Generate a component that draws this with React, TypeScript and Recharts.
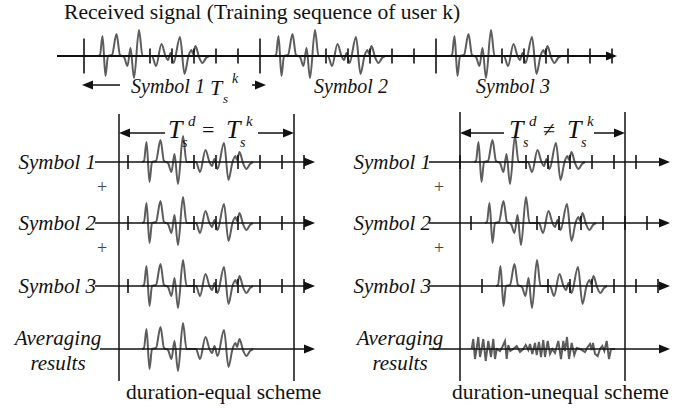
import { ComposedChart, Line, Scatter, XAxis, YAxis, ReferenceLine, ReferenceDot } from "recharts";

const FONT = '"Liberation Serif", "Times New Roman", "DejaVu Serif", serif';
const INK = "#111";
const WAVE = "#5c5c5c";

// one training symbol: [offset from symbol start, amplitude]
const symbolWave: [number, number][] = [
  [14, 0], [16, 1], [18.5, 20], [21.5, -20], [24, 0], [28, 1], [32.5, 22], [36, 1],
  [40, -1], [43.5, -10], [46.5, 8], [50, -22], [55, 26], [58.5, 0], [68, 0], [72, -10],
  [77.5, 12], [81.5, 0], [84, -4], [86.5, 3], [89.5, -7], [96, 19], [100.5, -18],
  [104.5, 0], [107.5, 6], [109, 2], [111.5, 10], [115, -1], [118.5, -7], [122, -2], [125, 0],
];

// averaging result of the duration-unequal scheme: [x, amplitude]
const unequalAvgWave: [number, number][] = [
  [471.7, 0], [473.3, 10], [475, -10], [477, 3], [478.3, 12], [480, -8], [481.7, 0],
  [483.3, 10], [485.7, -12], [488.3, 8], [490, -2], [491, -8], [493.3, 10], [495, -10],
  [496.7, 0], [500, -2], [502.3, 2], [505, 8], [506.7, -10], [508.3, 4], [510.3, -2],
  [513.3, 0], [516.7, 3], [520, -3], [523.3, 0], [525.7, 4], [528.3, -1], [530, 5],
  [532.3, -5], [535, 6], [536.7, -6], [539, 7], [541, -8], [543.3, 9], [545, -8],
  [547.7, 8], [550, -5], [552.3, 0], [555, -4], [558.3, 8], [561, -10], [563.3, 8],
  [565, -2], [567, 12], [569, -10], [571.7, 6], [574.3, -6], [576.7, 1], [580, 0],
  [585, -3], [587.7, 2], [590, 5], [591.7, -1], [593, 6], [595, -5], [597.7, -7],
  [600, 0], [602.3, 3], [604.3, -2], [606.7, 8], [609, -10], [611, 0], [615, 0],
];

const symbolNames = ["Symbol 1", "Symbol 2", "Symbol 3"];
const tickOffsets = [0, 66, 88, 110, 132, 154, 176];
const topMinorOffsets = [66, 88, 110, 132, 154];
const topStarts = [84, 260, 436];
const leftStarts = [128, 128, 128];
const rightStarts = [460, 471, 482];

// layout
const TOP_Y = 56;
const ROW_Y = [162, 223, 286];
const AVG_Y = 349;
const EQ_Y = 133;
const BOX_TOP = 114;
const BOX_BOTTOM = 381;

const wave = (start: number, base: number) =>
  symbolWave.map(([o, a]) => ({ x: start + o, y: base - a }));

const topMajor = topStarts.map((x) => ({ x, y: TOP_Y }));
const topMinor = topStarts
  .flatMap((s) => topMinorOffsets.map((o) => ({ x: s + o, y: TOP_Y })))
  .concat([{ x: 612, y: TOP_Y }]);
const rowTicks = [
  ...leftStarts.flatMap((s, i) => tickOffsets.map((o) => ({ x: s + o, y: ROW_Y[i] }))),
  ...rightStarts.flatMap((s, i) => tickOffsets.map((o) => ({ x: s + o, y: ROW_Y[i] }))),
];

const headsRight = [
  { x: 617, y: TOP_Y },
  ...ROW_Y.map((y) => ({ x: 315, y })),
  { x: 315, y: AVG_Y },
  ...ROW_Y.map((y) => ({ x: 670, y })),
  { x: 670, y: AVG_Y },
  { x: 294, y: EQ_Y },
  { x: 625, y: EQ_Y },
  { x: 266, y: 85 },
];
const headsLeft = [
  { x: 119, y: EQ_Y },
  { x: 460, y: EQ_Y },
  { x: 82, y: 85 },
];

// eslint-disable-next-line @typescript-eslint/no-explicit-any
const tickShape = (h: number) => (p: any) => (
  <line x1={p.cx} x2={p.cx} y1={p.cy - h} y2={p.cy + h} stroke={INK} strokeWidth={1.6} />
);

// eslint-disable-next-line @typescript-eslint/no-explicit-any
const headShape = (dir: number) => (p: any) => {
  const L = 11;
  const h = 4.5;
  return (
    <polygon
      points={`${p.cx},${p.cy} ${p.cx - dir * L},${p.cy - h} ${p.cx - dir * L},${p.cy + h}`}
      fill={INK}
    />
  );
};

const seg = (key: string, x1: number, y1: number, x2: number, y2: number, w = 1.7) => (
  <ReferenceLine
    key={key}
    segment={[{ x: x1, y: y1 }, { x: x2, y: y2 }]}
    stroke={INK}
    strokeWidth={w}
    ifOverflow="visible"
  />
);

const label = (
  key: string,
  x: number,
  y: number,
  text: string,
  size: number,
  italic = false,
  anchor: "start" | "middle" | "end" = "start",
  color = INK,
) => (
  <ReferenceDot
    key={key}
    x={x}
    y={y}
    r={0}
    ifOverflow="visible"
    // eslint-disable-next-line @typescript-eslint/no-explicit-any
    shape={(p: any) => (
      <text
        x={p.cx}
        y={p.cy}
        textAnchor={anchor}
        style={{
          fontFamily: FONT,
          fontSize: size,
          fontStyle: italic ? "italic" : "normal",
          fill: color,
        }}
      >
        {text}
      </text>
    )}
  />
);

// T_s^d (=|≠) T_s^k
const equation = (key: string, x0: number, rel: string) => [
  label(`${key}-t1`, x0, EQ_Y + 5, "T", 26, true),
  label(`${key}-s1`, x0 + 14, EQ_Y + 14, "s", 14, true),
  label(`${key}-d`, x0 + 20, EQ_Y - 7, "d", 15, true),
  label(`${key}-eq`, x0 + 34, EQ_Y + 4, rel, 22),
  label(`${key}-t2`, x0 + 58, EQ_Y + 5, "T", 26, true),
  label(`${key}-s2`, x0 + 72, EQ_Y + 14, "s", 14, true),
  label(`${key}-k`, x0 + 78, EQ_Y - 7, "k", 15, true),
];

export default function App() {
  return (
    <div style={{ position: "absolute", left: 0, top: 0, background: "#fff" }}>
      <ComposedChart width={692} height={410} margin={{ top: 0, right: 0, bottom: 0, left: 0 }}>
        <XAxis type="number" dataKey="x" domain={[0, 692]} hide allowDataOverflow />
        <YAxis type="number" dataKey="y" domain={[0, 410]} reversed hide allowDataOverflow />

        {topStarts.map((s, i) => (
          <Line key={`top-${i}`} data={wave(s, TOP_Y)} dataKey="y" type="monotone" stroke={WAVE}
            strokeWidth={2} dot={false} isAnimationActive={false} />
        ))}
        {leftStarts.map((s, i) => (
          <Line key={`left-${i}`} data={wave(s, ROW_Y[i])} dataKey="y" type="monotone" stroke={WAVE}
            strokeWidth={2} dot={false} isAnimationActive={false} />
        ))}
        <Line data={wave(128, AVG_Y)} dataKey="y" type="monotone" stroke={WAVE}
          strokeWidth={2} dot={false} isAnimationActive={false} />
        {rightStarts.map((s, i) => (
          <Line key={`right-${i}`} data={wave(s, ROW_Y[i])} dataKey="y" type="monotone" stroke={WAVE}
            strokeWidth={2} dot={false} isAnimationActive={false} />
        ))}
        <Line data={unequalAvgWave.map(([x, a]) => ({ x, y: AVG_Y - a }))} dataKey="y" type="linear"
          stroke={WAVE} strokeWidth={2} dot={false} isAnimationActive={false} />

        {seg("top-axis", 57, TOP_Y, 610, TOP_Y, 2)}
        {ROW_Y.map((y, i) => seg(`l-axis-${i}`, 95, y, 308, y))}
        {seg("l-avg", 100, AVG_Y, 308, AVG_Y)}
        {ROW_Y.map((y, i) => seg(`r-axis-${i}`, 429, y, 663, y))}
        {seg("r-avg", 429, AVG_Y, 663, AVG_Y)}
        {seg("box-l1", 119, BOX_TOP, 119, BOX_BOTTOM, 1.5)}
        {seg("box-l2", 294, BOX_TOP, 294, BOX_BOTTOM, 1.5)}
        {seg("box-r1", 460, BOX_TOP - 2, 460, BOX_BOTTOM, 1.5)}
        {seg("box-r2", 625, BOX_TOP - 2, 625, BOX_BOTTOM, 1.5)}
        {seg("eq-l1", 125, EQ_Y, 165, EQ_Y, 1.5)}
        {seg("eq-l2", 258, EQ_Y, 288, EQ_Y, 1.5)}
        {seg("eq-r1", 466, EQ_Y, 504, EQ_Y, 1.5)}
        {seg("eq-r2", 594, EQ_Y, 619, EQ_Y, 1.5)}
        {seg("sym-arrow-l", 88, 85, 120, 85, 1.5)}
        {seg("sym-arrow-r", 252, 85, 260, 85, 1.5)}

        <Scatter data={topMajor} shape={tickShape(17.5)} isAnimationActive={false} />
        <Scatter data={topMinor} shape={tickShape(7.5)} isAnimationActive={false} />
        <Scatter data={rowTicks} shape={tickShape(7)} isAnimationActive={false} />
        <Scatter data={headsRight} shape={headShape(1)} isAnimationActive={false} />
        <Scatter data={headsLeft} shape={headShape(-1)} isAnimationActive={false} />

        {label("title", 64, 19, "Received signal (Training sequence of user k)", 21.6)}
        {label("top-s1", 131, 93, symbolNames[0], 20, true)}
        {label("top-T", 210, 95, "T", 22, true)}
        {label("top-Ts", 223, 103, "s", 13, true)}
        {label("top-Tk", 232, 83, "k", 14, true)}
        {label("top-s2", 314, 93, symbolNames[1], 20, true)}
        {label("top-s3", 476, 93, symbolNames[2], 20, true)}

        {equation("eq-left", 168, "=")}
        {equation("eq-right", 509, "≠")}

        {ROW_Y.map((y, i) => label(`l-name-${i}`, 96, y + 7, symbolNames[i], 21, true, "end"))}
        {ROW_Y.map((y, i) => label(`r-name-${i}`, 431, y + 7, symbolNames[i], 21, true, "end"))}
        {label("l-plus-1", 102, 193, "+", 18, false, "middle", "#444")}
        {label("l-plus-2", 102, 254, "+", 18, false, "middle", "#444")}
        {label("r-plus-1", 439, 193, "+", 18, false, "middle", "#444")}
        {label("r-plus-2", 439, 254, "+", 18, false, "middle", "#444")}
        {label("l-avg-1", 58, 345, "Averaging", 21, true, "middle")}
        {label("l-avg-2", 58, 370, "results", 21, true, "middle")}
        {label("r-avg-1", 400, 345, "Averaging", 21, true, "middle")}
        {label("r-avg-2", 400, 370, "results", 21, true, "middle")}
        {label("cap-l", 126, 399, "duration-equal scheme", 21.5)}
        {label("cap-r", 452, 399, "duration-unequal scheme", 21.5)}
      </ComposedChart>
    </div>
  );
}
